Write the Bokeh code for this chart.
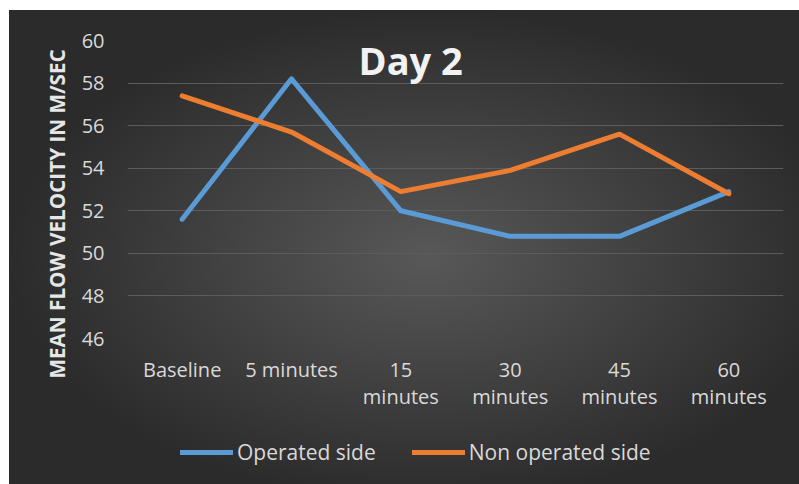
from bokeh.plotting import figure
from bokeh.layouts import column
from bokeh.models import Range1d, FactorRange, Legend, LegendItem, Label, SingleIntervalTicker, Title
from bokeh.embed import file_html
from bokeh.resources import INLINE

categories = ["Baseline", "5 minutes", "15\nminutes", "30\nminutes", "45\nminutes", "60\nminutes"]
operated = [51.6, 58.2, 52.0, 50.8, 50.8, 52.9]
non_operated = [57.4, 55.7, 52.9, 53.9, 55.6, 52.8]
series_names = ["Operated side", "Non operated side"]
title_text = "Day 2"
y_title = "MEAN FLOW VELOCITY IN M/SEC"

FONT = "Open Sans"
TXT = "#d9d9d9"
BLUE = "#5b9bd5"
ORANGE = "#ed7d31"

x_range = FactorRange(*categories, range_padding=0, factor_padding=0)

p = figure(width=790, height=408, x_range=x_range, y_range=Range1d(46, 60),
           output_backend="svg", toolbar_location=None,
           min_border_left=118, min_border_right=16, min_border_top=30, min_border_bottom=80)
p.background_fill_alpha = 0
p.border_fill_alpha = 0
p.outline_line_color = None

p.line(categories, operated, line_color=BLUE, line_width=5, line_cap="round", line_join="round")
p.line(categories, non_operated, line_color=ORANGE, line_width=5, line_cap="round", line_join="round")

p.xgrid.grid_line_color = None
p.ygrid.grid_line_color = "#5c5c5c"
p.ygrid.grid_line_width = 1.2
p.yaxis.ticker = SingleIntervalTicker(interval=2)

for ax in (p.xaxis[0], p.yaxis[0]):
    ax.axis_line_color = None
    ax.major_tick_line_color = None
    ax.minor_tick_line_color = None
    ax.major_label_text_color = TXT
    ax.major_label_text_font = FONT
    ax.major_label_text_font_size = "20px"

p.yaxis.major_label_standoff = 17
p.xaxis.major_label_standoff = 11
p.xaxis.major_label_text_line_height = 1.03

ytitle = Title(text=y_title, align="left", offset=-40, standoff=16,
               text_font=FONT, text_font_style="bold", text_font_size="20.7px", text_color="#e6e6e6")
p.add_layout(ytitle, "left")

title = Label(x=2.59, y=59.1, text=title_text, text_align="center", text_baseline="middle",
              text_font=FONT, text_font_style="bold", text_font_size="38px", text_color="#f2f2f2")
p.add_layout(title)

# legend strip below the chart (series drawn again here, outside its visible y-window)
q = figure(width=790, height=66, x_range=x_range, y_range=Range1d(0, 1),
           output_backend="svg", toolbar_location=None,
           min_border_left=0, min_border_right=0, min_border_top=0, min_border_bottom=0)
q.axis.visible = False
q.grid.visible = False
q.background_fill_alpha = 0
q.border_fill_alpha = 0
q.outline_line_color = None
k1 = q.line(categories, operated, line_color=BLUE, line_width=5, line_cap="round")
k2 = q.line(categories, non_operated, line_color=ORANGE, line_width=5, line_cap="round")
legend = Legend(items=[LegendItem(label=series_names[0], renderers=[k1]),
                       LegendItem(label=series_names[1], renderers=[k2])],
                orientation="horizontal", location=(53, 18),
                background_fill_alpha=0, border_line_color=None,
                label_text_font=FONT, label_text_font_size="21px", label_text_color=TXT,
                glyph_width=53, label_standoff=4, spacing=36, margin=0, padding=0)
q.add_layout(legend)

layout = column(p, q, spacing=0, margin=(10, 0, 0, 9),
                styles={"background": "radial-gradient(ellipse farthest-side at 53% 52%, #585858 0%, #2b2b2b 100%)"})

open("out.html", "w").write(file_html(layout, INLINE))
